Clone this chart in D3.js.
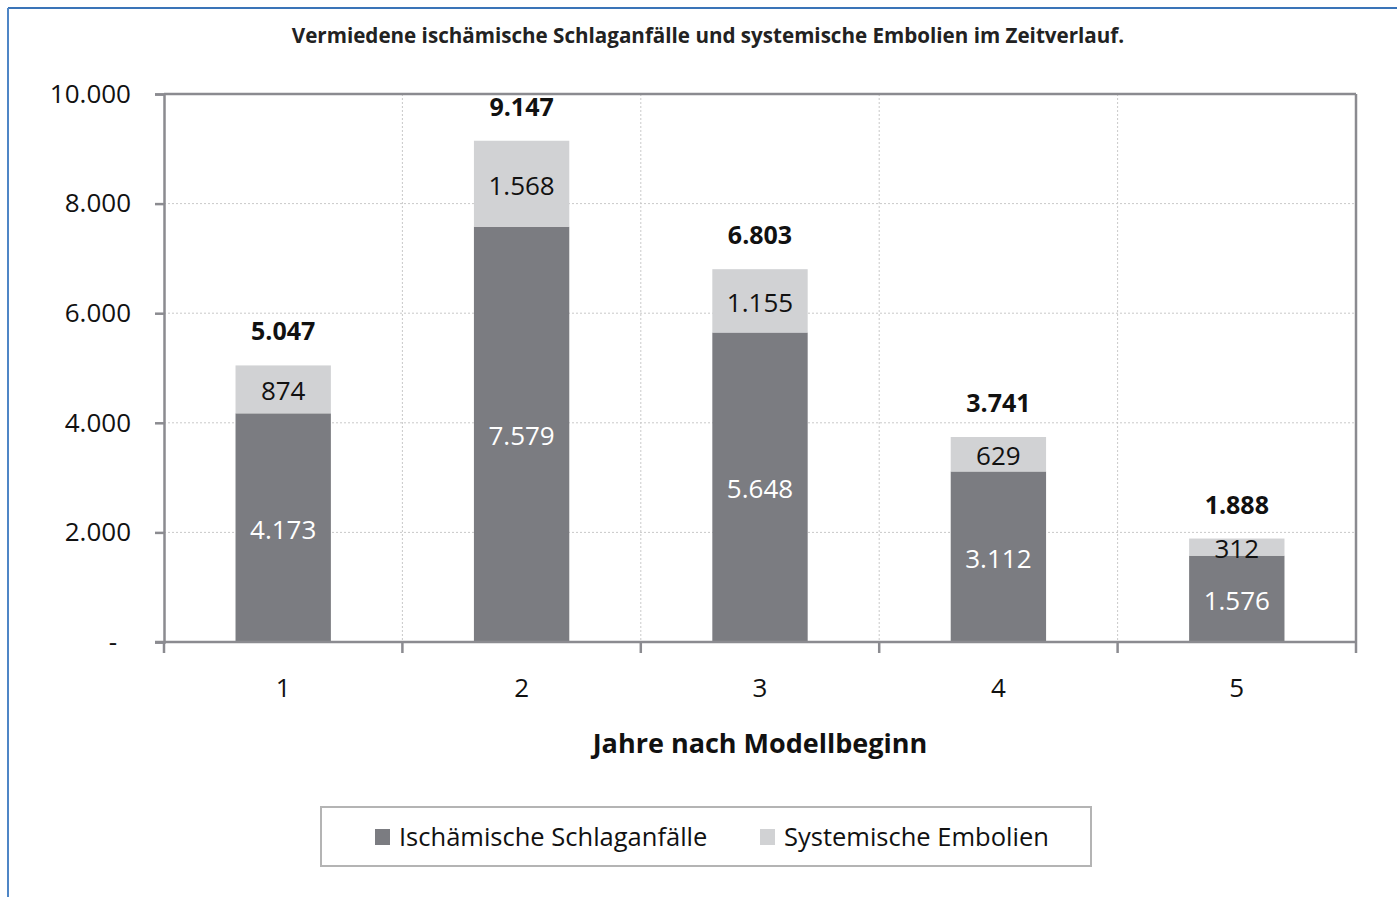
<!DOCTYPE html>
<html>
<head>
<meta charset="utf-8">
<script src="https://cdn.jsdelivr.net/npm/d3@7"></script>
<style>
  html, body { margin: 0; padding: 0; background: #fff; }
  svg { display: block; font-family: "Open Sans", "Noto Sans", sans-serif; }
</style>
</head>
<body>
<svg id="chart" width="1397" height="897"></svg>
<script>
// ---- data ----
const categories = ["1", "2", "3", "4", "5"];
const ischaemisch = [4173, 7579, 5648, 3112, 1576];
const embolien = [874, 1568, 1155, 629, 312];
const seriesNames = ["Ischämische Schlaganfälle", "Systemische Embolien"];
const yTicks = [0, 2000, 4000, 6000, 8000, 10000];
const titleText = "Vermiedene ischämische Schlaganfälle und systemische Embolien im Zeitverlauf.";
const xTitle = "Jahre nach Modellbeginn";

// ---- setup ----
const svg = d3.select("#chart");
const de = d3.formatLocale({decimal: ",", thousands: ".", grouping: [3], currency: ["", " €"]});
const fmt = de.format(",d");
const colors = ["#7b7c81", "#d1d2d4"];
const axisColor = "#8b8b90";

const L = 164, R = 1356, T = 94, B = 642;
const x = d3.scaleBand().domain(categories).range([L, R]).padding(0);
const y = d3.scaleLinear().domain([0, 10000]).range([B, T]);
const barW = x.bandwidth() * 0.4;

const table = categories.map((c, i) => ({cat: c, isch: ischaemisch[i], emb: embolien[i]}));
const stacked = d3.stack().keys(["isch", "emb"])(table);

// frame
svg.append("line").attr("x1", 8).attr("x2", 1397).attr("y1", 8).attr("y2", 8)
  .attr("stroke", "#3a74b8").attr("stroke-width", 2);
svg.append("line").attr("x1", 8).attr("x2", 8).attr("y1", 8).attr("y2", 897)
  .attr("stroke", "#4f86c6").attr("stroke-width", 2);

// title
svg.append("text").attr("x", 708).attr("y", 35).attr("text-anchor", "middle")
  .attr("dominant-baseline", "central")
  .style("font-weight", "bold").style("font-size", "20.6px").style("fill", "#222")
  .text(titleText);

// gridlines
svg.append("g").selectAll("line").data(yTicks.filter(d => d > 0 && d < 10000)).join("line")
  .attr("x1", L).attr("x2", R).attr("y1", d => y(d)).attr("y2", d => y(d))
  .attr("stroke", "#c9c9c9").attr("stroke-width", 1).attr("stroke-dasharray", "2,2");
svg.append("g").selectAll("line").data(categories.slice(1)).join("line")
  .attr("x1", d => x(d)).attr("x2", d => x(d)).attr("y1", T).attr("y2", B)
  .attr("stroke", "#c9c9c9").attr("stroke-width", 1).attr("stroke-dasharray", "2,2");

// plot border (top, right)
svg.append("line").attr("x1", L).attr("x2", R).attr("y1", T).attr("y2", T)
  .attr("stroke", axisColor).attr("stroke-width", 2.5);
svg.append("line").attr("x1", R).attr("x2", R).attr("y1", T).attr("y2", B)
  .attr("stroke", axisColor).attr("stroke-width", 2.5);

// bars
const gBars = svg.append("g");
stacked.forEach((s, si) => {
  gBars.append("g").selectAll("rect").data(s).join("rect")
    .attr("x", d => x(d.data.cat) + (x.bandwidth() - barW) / 2)
    .attr("width", barW)
    .attr("y", d => y(d[1]))
    .attr("height", d => y(d[0]) - y(d[1]))
    .attr("fill", colors[si]);
});

// y axis
const yAxis = d3.axisLeft(y).tickValues(yTicks).tickSize(9).tickPadding(24)
  .tickFormat(d => d === 0 ? "-" : fmt(d));
const gy = svg.append("g").attr("transform", `translate(${L},0)`).call(yAxis);
gy.select(".domain").attr("stroke", axisColor).attr("stroke-width", 2.5);
gy.selectAll(".tick line").attr("stroke", axisColor).attr("stroke-width", 2.5);
gy.selectAll(".tick text").style("font-size", "26px").style("fill", "#111")
  .style("font-family", "'Open Sans', sans-serif");
gy.selectAll(".tick text").filter(d => d === 0).attr("x", -47);

// x axis
const xAxis = d3.axisBottom(x).tickSize(0).tickPadding(37);
const gx = svg.append("g").attr("transform", `translate(0,${B})`).call(xAxis);
gx.select(".domain").remove();
gx.selectAll(".tick text").style("font-size", "26px").style("fill", "#111")
  .style("font-family", "'Open Sans', sans-serif");
svg.append("line").attr("x1", L - 9).attr("x2", R).attr("y1", B).attr("y2", B)
  .attr("stroke", axisColor).attr("stroke-width", 2.5);
const bounds = categories.map(c => x(c)).concat([R]);
svg.append("g").selectAll("line").data(bounds).join("line")
  .attr("x1", d => d).attr("x2", d => d).attr("y1", B).attr("y2", B + 11)
  .attr("stroke", axisColor).attr("stroke-width", 2.5);

// x title
svg.append("text").attr("x", (L + R) / 2).attr("y", 742).attr("text-anchor", "middle")
  .attr("dominant-baseline", "central")
  .style("font-weight", "bold").style("font-size", "27px").style("fill", "#111")
  .text(xTitle);

// segment labels
stacked.forEach((s, si) => {
  svg.append("g").selectAll("text").data(s).join("text")
    .attr("x", d => x(d.data.cat) + x.bandwidth() / 2)
    .attr("y", d => (y(d[0]) + y(d[1])) / 2 + 1)
    .attr("text-anchor", "middle").attr("dominant-baseline", "central")
    .style("font-size", "26px").style("fill", si === 0 ? "#fff" : "#111")
    .text(d => fmt(d[1] - d[0]));
});

// totals
const topLayer = stacked[stacked.length - 1];
svg.append("g").selectAll("text").data(topLayer).join("text")
  .attr("x", d => x(d.data.cat) + x.bandwidth() / 2)
  .attr("y", d => y(d[1]) - 35)
  .attr("text-anchor", "middle").attr("dominant-baseline", "central")
  .style("font-size", "25px").style("font-weight", "bold").style("fill", "#111")
  .text(d => fmt(d[1]));

// legend
svg.append("rect").attr("x", 321).attr("y", 807).attr("width", 770).attr("height", 59)
  .attr("fill", "#fff").attr("stroke", "#b4b4b4").attr("stroke-width", 2);
const legX = [375, 760];
seriesNames.forEach((n, i) => {
  svg.append("rect").attr("x", legX[i]).attr("y", 829).attr("width", 15).attr("height", 16)
    .attr("fill", colors[i]);
  svg.append("text").attr("x", legX[i] + 24).attr("y", 836).attr("dominant-baseline", "central")
    .style("font-size", "25.5px").style("fill", "#111").text(n);
});
</script>
</body>
</html>
